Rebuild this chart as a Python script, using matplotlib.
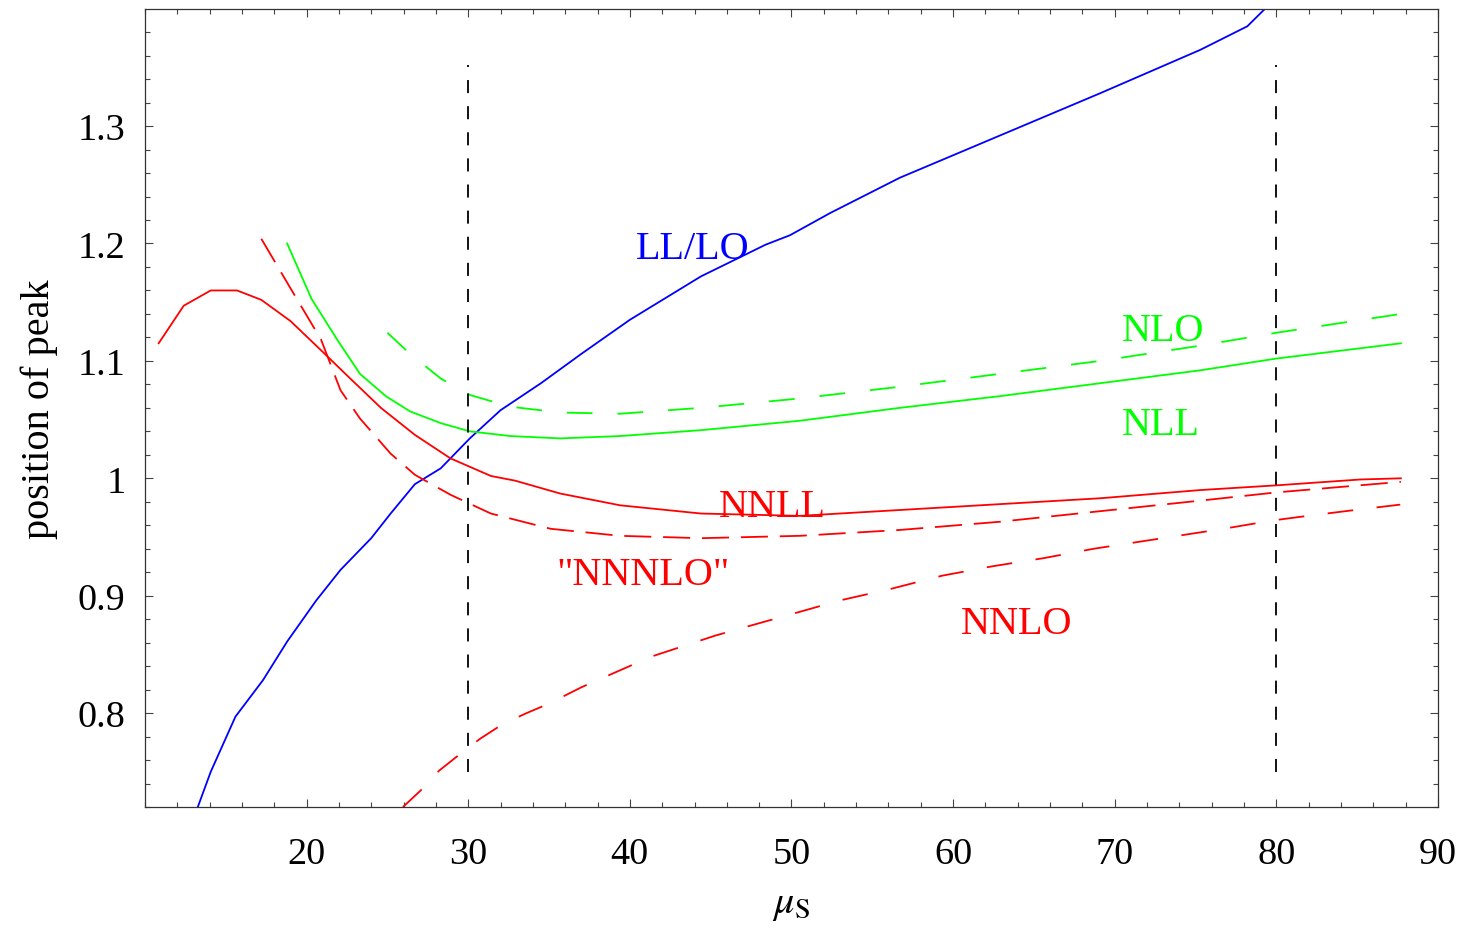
"""Peak position vs soft scale mu_S for the LL/LO ... NNLL curves."""
import matplotlib
matplotlib.use("Agg")
import matplotlib.pyplot as plt
from matplotlib.ticker import MultipleLocator, FuncFormatter

plt.rcParams["font.family"] = ["Liberation Serif", "DejaVu Serif"]
plt.rcParams["mathtext.fontset"] = "stix"
plt.rcParams["lines.scale_dashes"] = False

# LL/LO (blue, solid)
ll_x = [13.27, 14.07, 15.6, 17.3, 18.8, 20.6, 22.1, 24.0, 25.2, 26.7, 28.3, 30.1,
        32.0, 34.5, 37.0, 40.0, 44.4, 48.4, 49.9, 52.4, 56.7, 62.9, 69.1, 75.3,
        78.2, 79.3]
ll_y = [0.72, 0.75, 0.797, 0.828, 0.861, 0.896, 0.922, 0.949, 0.970, 0.995, 1.0085,
        1.034, 1.058, 1.081, 1.106, 1.135, 1.172, 1.199, 1.207, 1.226, 1.256, 1.292,
        1.328, 1.365, 1.385, 1.40]

# NLL (green, solid)
nll_x = [18.8, 20.3, 21.9, 23.3, 24.9, 26.4, 28.3, 30.1, 32.6, 35.7, 39.4, 44.4,
         50.5, 56.7, 62.9, 69.1, 75.3, 80.0, 87.7]
nll_y = [1.200, 1.153, 1.118, 1.089, 1.070, 1.057, 1.047, 1.040, 1.036, 1.034,
         1.036, 1.041, 1.049, 1.060, 1.070, 1.081, 1.092, 1.102, 1.115]

# NLO (green, dashed)
nlo_x = [25.0, 26.4, 28.3, 30.1, 32.6, 35.7, 39.4, 44.4, 50.5, 56.7, 62.9, 69.1,
         75.3, 80.0, 87.7]
nlo_y = [1.124, 1.106, 1.085, 1.071, 1.061, 1.056, 1.055, 1.060, 1.068, 1.078,
         1.089, 1.100, 1.113, 1.124, 1.140]

# NNLL (red, solid)
nnll_x = [10.85, 12.4, 14.07, 15.7, 17.2, 19.0, 20.9, 22.7, 24.6, 26.7, 28.9, 31.4,
          32.9, 35.7, 39.4, 44.4, 50.5, 56.7, 62.9, 69.1, 75.3, 80.0, 85.2, 87.7]
nnll_y = [1.115, 1.147, 1.160, 1.160, 1.152, 1.134, 1.109, 1.085, 1.060, 1.037,
          1.017, 1.002, 0.998, 0.987, 0.977, 0.970, 0.968, 0.973, 0.978, 0.983,
          0.990, 0.994, 0.999, 1.000]

# "NNNLO" (red, dashed)
nnnlo_x = [17.2, 19.0, 20.9, 22.1, 23.3, 25.2, 26.7, 28.9, 31.4, 35.1, 39.4, 44.4,
           50.5, 56.7, 62.9, 69.1, 75.3, 80.0, 87.7]
nnnlo_y = [1.204, 1.162, 1.118, 1.075, 1.051, 1.021, 1.003, 0.986, 0.970, 0.957,
           0.951, 0.949, 0.951, 0.956, 0.963, 0.972, 0.981, 0.988, 0.997]

# NNLO (red, dashed)
nnlo_x = [25.96, 27.05, 28.2, 29.48, 30.72, 32.06, 33.54, 34.98, 37.0, 41.3, 45.28,
          46.94, 49.93, 53.0, 56.2, 59.3, 62.4, 65.6, 68.7, 76.73, 79.72, 81.37,
          84.56, 87.66]
nnlo_y = [0.720, 0.734, 0.751, 0.765, 0.778, 0.790, 0.7996, 0.808, 0.822, 0.848,
          0.866, 0.8725, 0.884, 0.896, 0.906, 0.917, 0.925, 0.932, 0.940, 0.957,
          0.964, 0.967, 0.9725, 0.9776]

# matching scales marked by vertical dashed lines
vline_x = [30, 80]
vline_y = [0.75, 1.352]

# curve labels: (text, x, baseline y, colour)
labels = [
    ("LL/LO", 43.9, 1.188, "#0000ff"),
    ("NLO", 73.0, 1.118, "#00ff00"),
    ("NLL", 72.85, 1.038, "#00ff00"),
    ("NNLL", 48.8, 0.968, "#ff0000"),
    ('"NNNLO"', 40.8, 0.910, "#ff0000"),
    ("NNLO", 63.9, 0.8685, "#ff0000"),
]

fig = plt.figure(figsize=(14.61, 9.29), dpi=100)
ax = fig.add_axes([0.0992, 0.1302, 0.8851, 0.859])

lw = 1.3
ax.plot(ll_x, ll_y, color="#0000ff", lw=lw)
ax.plot(nll_x, nll_y, color="#00ff00", lw=lw)
ax.plot(nlo_x, nlo_y, color="#00ff00", lw=lw, dashes=(18.5, 18))
ax.plot(nnll_x, nnll_y, color="#ff0000", lw=lw)
ax.plot(nnnlo_x, nnnlo_y, color="#ff0000", lw=lw, dashes=(19.5, 8.5))
ax.plot(nnlo_x, nnlo_y, color="#ff0000", lw=lw, dashes=(18.5, 17))
for xv in vline_x:
    ax.plot([xv, xv], vline_y, color="black", lw=1.3, dashes=(9.4, 9.4))

for txt, tx, ty, c in labels:
    ax.text(tx, ty, txt, color=c, fontsize=29, ha="center", va="baseline")

ax.set_xlim(10, 90)
ax.set_ylim(0.72, 1.3997)
ax.set_xticks([20, 30, 40, 50, 60, 70, 80, 90])
ax.set_yticks([0.8, 0.9, 1.0, 1.1, 1.2, 1.3])
ax.xaxis.set_minor_locator(MultipleLocator(2))
ax.yaxis.set_minor_locator(MultipleLocator(0.02))
ax.yaxis.set_major_formatter(FuncFormatter(lambda v, p: f"{v:g}"))

ax.tick_params(which="both", direction="in", top=True, right=True,
               color="#444444", width=0.8)
ax.tick_params(which="major", length=6, labelsize=27.5)
ax.tick_params(which="minor", length=3.6)
ax.tick_params(axis="x", which="major", pad=21.5)
ax.tick_params(axis="y", which="major", pad=14)
for sp in ax.spines.values():
    sp.set_color("#333333")
    sp.set_linewidth(0.9)

ax.set_xlabel(r"$\mu_{\mathrm{S}}$", fontsize=29, labelpad=10)
ax.set_ylabel("position of peak", fontsize=29, labelpad=14)

fig.savefig("out.png", dpi=100)
